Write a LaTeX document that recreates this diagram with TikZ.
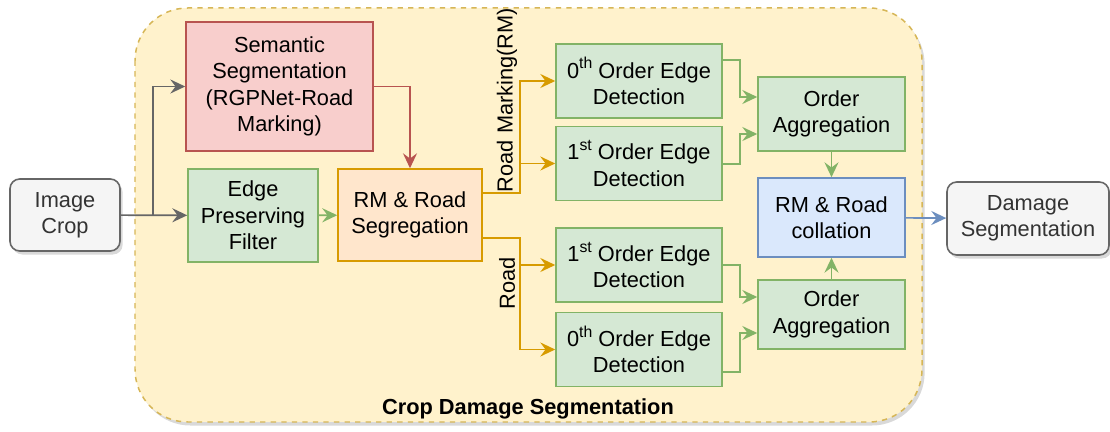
\documentclass[tikz,border=0pt]{standalone}
\usepackage{fontspec}
\setmainfont{Liberation Sans}
\usetikzlibrary{arrows.meta,shadows}
\definecolor{grayF}{HTML}{F5F5F5}
\definecolor{grayD}{HTML}{666666}
\definecolor{yelF}{HTML}{FFF2CC}
\definecolor{yelD}{HTML}{D6B656}
\definecolor{redF}{HTML}{F8CECC}
\definecolor{redD}{HTML}{B85450}
\definecolor{grnF}{HTML}{D5E8D4}
\definecolor{grnD}{HTML}{82B366}
\definecolor{orgF}{HTML}{FFE6CC}
\definecolor{orgD}{HTML}{D79B00}
\definecolor{bluF}{HTML}{DAE8FC}
\definecolor{bluD}{HTML}{6C8EBF}
\newcommand{\ordsup}[1]{\raisebox{0.42em}{\fontsize{9}{9}\selectfont #1}}

\begin{document}
\begin{tikzpicture}[x=0.02cm,y=-0.02cm,
                font=\fontsize{12.4}{15}\selectfont,
                blk/.style={draw,line width=0.9pt,align=center,inner sep=0pt},
                io/.style={blk,rounded corners=5.5pt,draw=grayD,fill=grayF,text=black!80,
                    drop shadow={shadow xshift=1.5pt,shadow yshift=-2pt,opacity=0.3}},
                det/.style={blk,draw=grnD,fill=grnF,minimum width=3.32cm,minimum height=1.48cm},
                arr/.style={line width=0.95pt,-{Stealth[length=8.5pt,width=8pt,inset=3pt]}}]
                \useasboundingbox (0,0) rectangle (1110,432);
                \draw[draw=yelD,fill=yelF,line width=0.85pt,dash pattern=on 3pt off 3pt,rounded corners=30pt,
                    drop shadow={shadow xshift=1.5pt,shadow yshift=-2pt,opacity=0.3}] (135,8) rectangle (922,422);
                \node[font=\fontsize{12.4}{15}\selectfont\bfseries] (title) at (528,409) {Crop Damage Segmentation};

                \node[io,minimum width=2.2cm,minimum height=1.44cm] (crop) at (65,215) {Image\\Crop};
                \node[blk,draw=redD,fill=redF,minimum width=3.74cm,minimum height=2.58cm] (sem) at (279.5,86.5)
                    {Semantic\\Segmentation\\(RGPNet-Road\\Marking)};
                \node[blk,draw=grnD,fill=grnF,minimum width=2.6cm,minimum height=1.86cm] (epf) at (253,215.5)
                    {Edge\\Preserving\\Filter};
                \node[blk,draw=orgD,fill=orgF,minimum width=2.88cm,minimum height=1.84cm] (seg) at (410,215)
                    {RM \& Road\\Segregation};

                \node[det] (rmA) at (639,81) {0\ordsup{th} Order Edge\\Detection};
                \node[det] (rmB) at (639,163.5) {1\ordsup{st} Order Edge\\Detection};
                \node[det] (rdB) at (639,265) {1\ordsup{st} Order Edge\\Detection};
                \node[det] (rdA) at (639,349.5) {0\ordsup{th} Order Edge\\Detection};

                \node[blk,draw=grnD,fill=grnF,minimum width=2.94cm,minimum height=1.48cm] (aggT) at (831.5,114)
                    {Order\\Aggregation};
                \node[blk,draw=bluD,fill=bluF,minimum width=2.94cm,minimum height=1.58cm] (coll) at (831.5,217.5)
                    {RM \& Road\\collation};
                \node[blk,draw=grnD,fill=grnF,minimum width=2.94cm,minimum height=1.38cm] (aggB) at (831.5,314.5)
                    {Order\\Aggregation};
                \node[io,minimum width=3.24cm,minimum height=1.46cm] (dmg) at (1028,218.5) {Damage\\Segmentation};

                \node[rotate=90] (lblrm) at (507,100) {Road Marking(RM)};
                \node[rotate=90] (lblrd) at (507,283) {Road};

                \coordinate (split) at (153,215);
                \coordinate (rmfork) at (520,193);
                \coordinate (rdfork) at (520,238);

                \draw[arr,grayD] (crop) -- (epf);
                \draw[arr,grayD] (split) |- (sem);
                \draw[arr,redD] (sem) -| (seg);
                \draw[arr,grnD] (epf) -- (seg);

                \draw[arr,orgD] (seg.east |- rmfork) -- (rmfork) |- (rmA);
                \draw[arr,orgD] (rmfork) |- (rmB);
                \draw[arr,orgD] (seg.east |- rdfork) -- (rdfork) |- (rdB);
                \draw[arr,orgD] (rdfork) |- (rdA);

                \draw[arr,grnD] (rmA.east |- 0,60) -- (740,60) |- (aggT.west |- 0,97);
                \draw[arr,grnD] (rmB.east |- 0,164) -- (740,164) |- (aggT.west |- 0,134);
                \draw[arr,grnD] (rdB.east |- 0,265) -- (740,265) |- (aggB.west |- 0,297);
                \draw[arr,grnD] (rdA.east |- 0,372) -- (740,372) |- (aggB.west |- 0,333);
                \draw[arr,grnD] (aggT) -- (coll);
                \draw[arr,grnD] (aggB) -- (coll);
                \draw[arr,bluD] (coll) -- (dmg);
            \end{tikzpicture}
\end{document}
